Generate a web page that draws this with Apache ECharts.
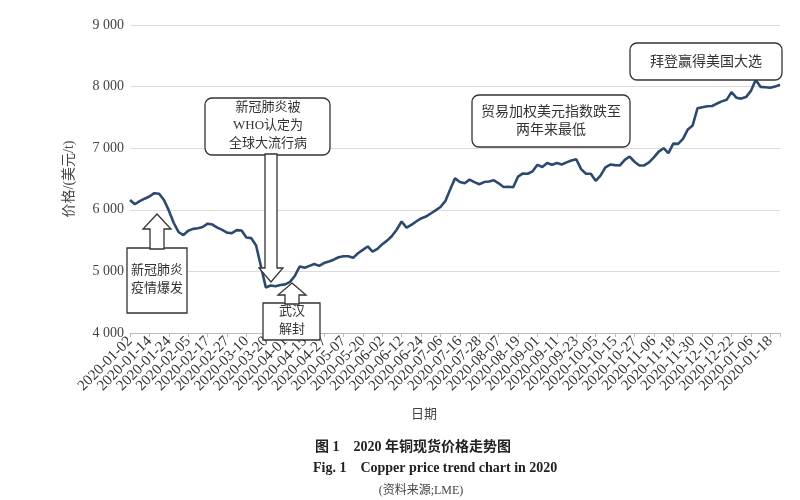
<!DOCTYPE html>
<html>
<head>
<meta charset="utf-8">
<script src="https://cdn.jsdelivr.net/npm/echarts@6/dist/echarts.min.js"></script>
<style>
html,body{margin:0;padding:0;background:#fff;}
#chart{width:800px;height:500px;}
</style>
</head>
<body>
<div id="chart"></div>
<script>
// Tick labels (every 4th point on the axis)
const tickLabels = [
  "2020-01-02","2020-01-14","2020-01-24","2020-02-05","2020-02-17","2020-02-27",
  "2020-03-10","2020-03-20","2020-04-01","2020-04-15","2020-04-27","2020-05-07",
  "2020-05-20","2020-06-02","2020-06-12","2020-06-24","2020-07-06","2020-07-16",
  "2020-07-28","2020-08-07","2020-08-19","2020-09-01","2020-09-11","2020-09-23",
  "2020-10-05","2020-10-15","2020-10-27","2020-11-06","2020-11-18","2020-11-30",
  "2020-12-10","2020-12-22","2020-01-06","2020-01-18"
];
// Copper spot price (USD/t)
const priceValues = [
  6160,6090,6140,6180,6215,6270,6260,6160,5990,5790,
  5640,5590,5660,5690,5700,5720,5775,5760,5710,5675,
  5630,5620,5670,5665,5550,5540,5420,5080,4740,4770,
  4760,4780,4790,4830,4930,5080,5060,5090,5120,5090,
  5135,5160,5190,5230,5245,5245,5220,5295,5350,5405,
  5320,5365,5440,5500,5575,5680,5810,5710,5755,5810,
  5860,5890,5940,5990,6045,6140,6330,6510,6450,6430,
  6490,6450,6415,6450,6460,6480,6430,6370,6375,6365,
  6540,6590,6585,6625,6730,6695,6760,6730,6760,6735,
  6770,6800,6820,6660,6585,6585,6470,6555,6690,6735,
  6725,6720,6810,6865,6780,6720,6720,6770,6850,6945,
  7000,6920,7075,7070,7150,7305,7370,7650,7665,7680,
  7685,7725,7760,7785,7910,7820,7805,7830,7930,8110,
  7995,7990,7980,8000,8030
];
const pointsPerTick = 4;
const yTicks = [4000, 5000, 6000, 7000, 8000, 9000];

const xCats = priceValues.map((_, i) => String(i));
const fmtThousands = v => String(v).replace(/\B(?=(\d{3})+(?!\d))/g, ' ');

const chart = echarts.init(document.getElementById('chart'), null, {renderer: 'canvas'});
const serif = "'Liberation Serif','Times New Roman',serif";
const cjk = "'Liberation Serif','Noto Sans CJK SC',serif";
const boxStyle = {fill: '#fff', stroke: '#333', lineWidth: 1.3};
const txt = (x, y, text, size, extra) => Object.assign({
  type: 'text', x: x, y: y, z: 20,
  style: Object.assign({text: text, fill: '#333', font: size + "px " + cjk, align: 'center', verticalAlign: 'middle', lineHeight: 18}, extra || {})
});

chart.setOption({
  animation: false,
  backgroundColor: '#fff',
  grid: {left: 130, right: 20, top: 25, bottom: 167, containLabel: false},
  xAxis: {
    type: 'category',
    data: xCats,
    boundaryGap: false,
    axisLine: {lineStyle: {color: '#bbb', width: 1}},
    axisTick: {show: true, interval: pointsPerTick - 1, length: 4, lineStyle: {color: '#bbb'}},
    axisLabel: {
      interval: 0,
      rotate: 45,
      margin: 6,
      color: '#333',
      fontFamily: serif,
      fontSize: 15,
      formatter: (v) => {
        const i = Number(v);
        return i % pointsPerTick === 0 ? (tickLabels[i / pointsPerTick] || '') : '';
      }
    },
    splitLine: {show: false}
  },
  yAxis: {
    type: 'value',
    min: yTicks[0],
    max: yTicks[yTicks.length - 1],
    interval: 1000,
    name: '价格/(美元/t)',
    nameLocation: 'middle',
    nameGap: 54,
    nameRotate: 90,
    nameTextStyle: {color: '#444', fontSize: 14, fontFamily: cjk},
    axisLine: {show: false},
    axisTick: {show: false},
    axisLabel: {color: '#444', fontFamily: serif, fontSize: 14, margin: 6, formatter: fmtThousands},
    splitLine: {lineStyle: {color: '#dcdcdc', width: 1}}
  },
  series: [{
    type: 'line',
    data: priceValues,
    showSymbol: false,
    symbol: 'none',
    lineStyle: {color: '#2c4a6e', width: 2.6},
    z: 5
  }],
  graphic: [
    // Box 1: 新冠肺炎疫情爆发
    {type: 'rect', z: 10, shape: {x: 127, y: 248, width: 60, height: 65}, style: boxStyle},
    {type: 'polygon', z: 11, shape: {points: [[157,214],[171,229],[164,229],[164,249],[150,249],[150,229],[143,229]]}, style: boxStyle},
    txt(157, 280, '新冠肺炎\n疫情爆发', 13),
    // Box 2: WHO
    {type: 'rect', z: 10, shape: {x: 205, y: 98, width: 125, height: 57, r: 7}, style: boxStyle},
    {type: 'polygon', z: 11, shape: {points: [[265,154],[277,154],[277,268],[283,268],[271,282],[259,268],[265,268]]}, style: boxStyle},
    txt(268, 126, '新冠肺炎被\nWHO认定为\n全球大流行病', 13),
    // Box 3: 武汉解封
    {type: 'rect', z: 10, shape: {x: 263, y: 303, width: 57, height: 37}, style: boxStyle},
    {type: 'polygon', z: 11, shape: {points: [[292,283],[306,295],[299,295],[299,304],[285,304],[285,295],[278,295]]}, style: boxStyle},
    txt(292, 321, '武汉\n解封', 13),
    // Box 4
    {type: 'rect', z: 10, shape: {x: 472, y: 95, width: 158, height: 52, r: 7}, style: boxStyle},
    txt(551, 121, '贸易加权美元指数跌至\n两年来最低', 14),
    // Box 5
    {type: 'rect', z: 10, shape: {x: 630, y: 43, width: 152, height: 37, r: 7}, style: boxStyle},
    txt(706, 62, '拜登赢得美国大选', 14),
    // Axis name and captions
    txt(424, 415, '日期', 13, {fill: '#444'}),
    txt(315, 447, '图 1    2020 年铜现货价格走势图', 14, {font: "bold 14px " + cjk, fill: '#222', align: 'left'}),
    txt(313, 468, 'Fig. 1    Copper price trend chart in 2020', 14, {font: "bold 14px " + serif, fill: '#222', align: 'left'}),
    txt(421, 491, '(资料来源;LME)', 12, {fill: '#444'})
  ]
});
</script>
</body>
</html>
